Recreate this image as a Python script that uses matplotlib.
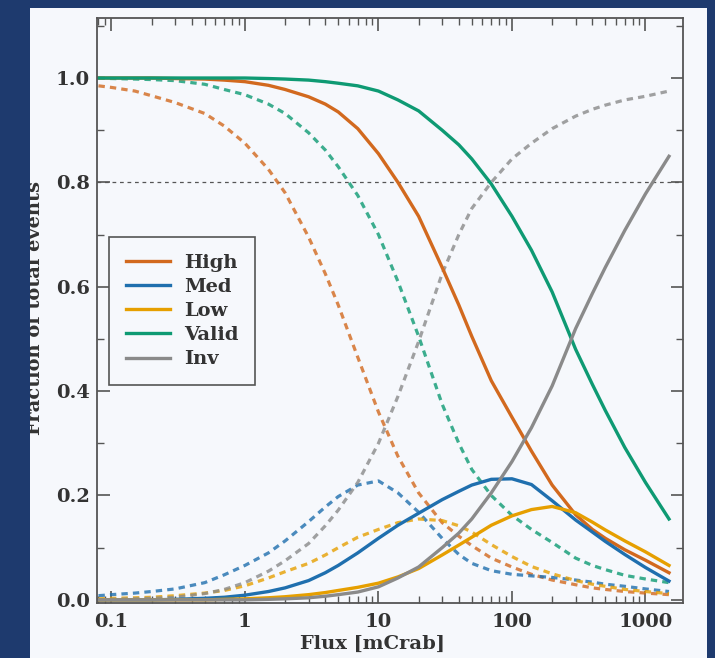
import numpy as np
import matplotlib
matplotlib.use("Agg")
import matplotlib.pyplot as plt
from matplotlib.patches import Rectangle

# flux grid (mCrab) and grade fractions
flux = [0.08, 0.1, 0.15, 0.2, 0.3, 0.5, 0.7, 1, 1.5, 2, 3, 4, 5, 7, 10,
        14, 20, 30, 40, 50, 70, 100, 140, 200, 300, 400, 500, 700, 1000, 1500]

# solid curves
high = [1.0, 1.0, 1.0, 1.0, 0.999, 0.998, 0.996, 0.993, 0.986, 0.978, 0.964, 0.95, 0.935, 0.903, 0.855,
        0.80, 0.735, 0.637, 0.565, 0.505, 0.42, 0.35, 0.285, 0.22, 0.163, 0.135, 0.118, 0.096, 0.076, 0.052]
med = [0.0, 0.0, 0.0, 0.0, 0.001, 0.003, 0.005, 0.009, 0.016, 0.023, 0.037, 0.052, 0.066, 0.09, 0.118,
       0.143, 0.166, 0.192, 0.208, 0.22, 0.231, 0.232, 0.221, 0.19, 0.153, 0.13, 0.112, 0.087, 0.062, 0.036]
low = [0.0, 0.0, 0.0, 0.0, 0.0, 0.0, 0.001, 0.002, 0.004, 0.006, 0.01, 0.014, 0.018, 0.024, 0.032,
       0.044, 0.06, 0.086, 0.105, 0.12, 0.143, 0.161, 0.173, 0.179, 0.167, 0.149, 0.134, 0.113, 0.092, 0.066]
valid = [1.0, 1.0, 1.0, 1.0, 1.0, 1.0, 1.0, 1.0, 0.999, 0.998, 0.996, 0.993, 0.99, 0.985, 0.975,
         0.958, 0.937, 0.9, 0.872, 0.845, 0.797, 0.735, 0.67, 0.59, 0.48, 0.413, 0.363, 0.292, 0.225, 0.155]
inv = [0.0, 0.0, 0.0, 0.0, 0.0, 0.0, 0.0, 0.0, 0.001, 0.002, 0.004, 0.007, 0.01, 0.015, 0.025,
       0.042, 0.063, 0.1, 0.128, 0.155, 0.205, 0.265, 0.33, 0.41, 0.52, 0.587, 0.637, 0.708, 0.778, 0.85]

# dashed curves
high_d = [0.985, 0.982, 0.975, 0.966, 0.953, 0.932, 0.908, 0.875, 0.825, 0.78, 0.695, 0.625, 0.565, 0.465, 0.36,
          0.275, 0.205, 0.148, 0.122, 0.104, 0.08, 0.063, 0.049, 0.038, 0.029, 0.023, 0.02, 0.016, 0.013, 0.01]
med_d = [0.008, 0.01, 0.013, 0.016, 0.021, 0.033, 0.048, 0.066, 0.09, 0.113, 0.15, 0.178, 0.198, 0.22, 0.228,
         0.205, 0.168, 0.118, 0.087, 0.07, 0.056, 0.049, 0.046, 0.043, 0.038, 0.034, 0.03, 0.026, 0.021, 0.016]
low_d = [0.002, 0.003, 0.004, 0.005, 0.008, 0.013, 0.018, 0.027, 0.042, 0.054, 0.07, 0.086, 0.1, 0.12, 0.135,
         0.148, 0.155, 0.152, 0.142, 0.13, 0.106, 0.083, 0.064, 0.05, 0.037, 0.03, 0.026, 0.02, 0.016, 0.012]
valid_d = [1.0, 0.999, 0.998, 0.997, 0.995, 0.988, 0.978, 0.968, 0.95, 0.932, 0.895, 0.862, 0.83, 0.775, 0.70,
           0.61, 0.505, 0.375, 0.30, 0.25, 0.20, 0.162, 0.135, 0.11, 0.08, 0.066, 0.058, 0.047, 0.04, 0.033]
inv_d = [0.0, 0.001, 0.002, 0.003, 0.005, 0.012, 0.02, 0.033, 0.055, 0.075, 0.108, 0.142, 0.172, 0.225, 0.30,
         0.39, 0.495, 0.625, 0.70, 0.75, 0.80, 0.845, 0.875, 0.903, 0.927, 0.94, 0.948, 0.958, 0.965, 0.975]

labels = ["High", "Med", "Low", "Valid", "Inv"]
colors = ["#d2691e", "#1f6fae", "#e69f00", "#0e9a73", "#8a8a8a"]
solid = [high, med, low, valid, inv]
dashed = [high_d, med_d, low_d, valid_d, inv_d]

navy = "#1e3a6e"
panel_col = "#f6f8fc"
ink = "#333333"

plt.rcParams["font.family"] = ["DejaVu Serif"]
plt.rcParams["font.weight"] = "bold"

fig = plt.figure(figsize=(7.15, 6.58), dpi=100, facecolor=navy)
fig.patches.append(Rectangle((30 / 715, 0), 677 / 715, 650 / 658, transform=fig.transFigure,
                             facecolor=panel_col, edgecolor="none", zorder=-5))
# left strip of the frame hides the edge of the y label, as in the original
fig.patches.append(Rectangle((0, 0), 30 / 715, 1, transform=fig.transFigure,
                             facecolor=navy, edgecolor="none", zorder=20))

ax = fig.add_axes([97 / 715, 55 / 658, 586 / 715, 585 / 658])
ax.set_facecolor("none")

for ys, c in zip(dashed, colors):
    ax.plot(flux, ys, color=c, lw=2.3, ls=(0, (2.0, 1.6)), alpha=0.8)
for ys, c, lab in zip(solid, colors, labels):
    ax.plot(flux, ys, color=c, lw=2.4, label=lab)

ax.axhline(0.8, color="#555555", lw=0.9, ls=(0, (3, 3)), zorder=1)

ax.set_xscale("log")
ax.set_xlim(0.078, 1910)
ax.set_ylim(-0.006, 1.115)
ax.set_xticks([0.1, 1, 10, 100, 1000])
ax.set_xticklabels(["0.1", "1", "10", "100", "1000"])
ax.set_yticks([0.0, 0.2, 0.4, 0.6, 0.8, 1.0])
ax.set_yticklabels(["0.0", "0.2", "0.4", "0.6", "0.8", "1.0"])
ax.set_yticks(np.arange(0.1, 1.15, 0.2), minor=True)

for s in ax.spines.values():
    s.set_color("#555555")
    s.set_linewidth(1.3)
ax.tick_params(which="both", direction="in", top=True, right=True, colors="#555555",
               labelcolor=ink, labelsize=14)
ax.tick_params(which="major", length=9, width=1.2)
ax.tick_params(which="minor", length=5, width=1.0)
ax.tick_params(axis="x", pad=7)
ax.tick_params(axis="y", pad=5)

ax.set_xlabel("Flux [mCrab]", fontsize=14, color=ink, fontweight="bold")
ax.xaxis.set_label_coords((372 - 97) / 586, -0.055)
ax.set_ylabel("Fraction of total events", fontsize=14, color=ink, fontweight="bold")
ax.yaxis.set_label_coords(-0.09, 0.505)

leg = ax.legend(loc="upper left", bbox_to_anchor=(109 / 715, 1 - 237 / 658),
                bbox_transform=fig.transFigure, borderaxespad=0, fontsize=14,
                frameon=True, fancybox=False, handlelength=2.3, handletextpad=0.7,
                labelspacing=0.32, borderpad=0.85)
leg.get_frame().set_edgecolor("#555555")
leg.get_frame().set_linewidth(1.2)
leg.get_frame().set_facecolor(panel_col)
leg.get_frame().set_alpha(1)
for t in leg.get_texts():
    t.set_color(ink)

fig.savefig("out.png", dpi=100, facecolor=navy)
